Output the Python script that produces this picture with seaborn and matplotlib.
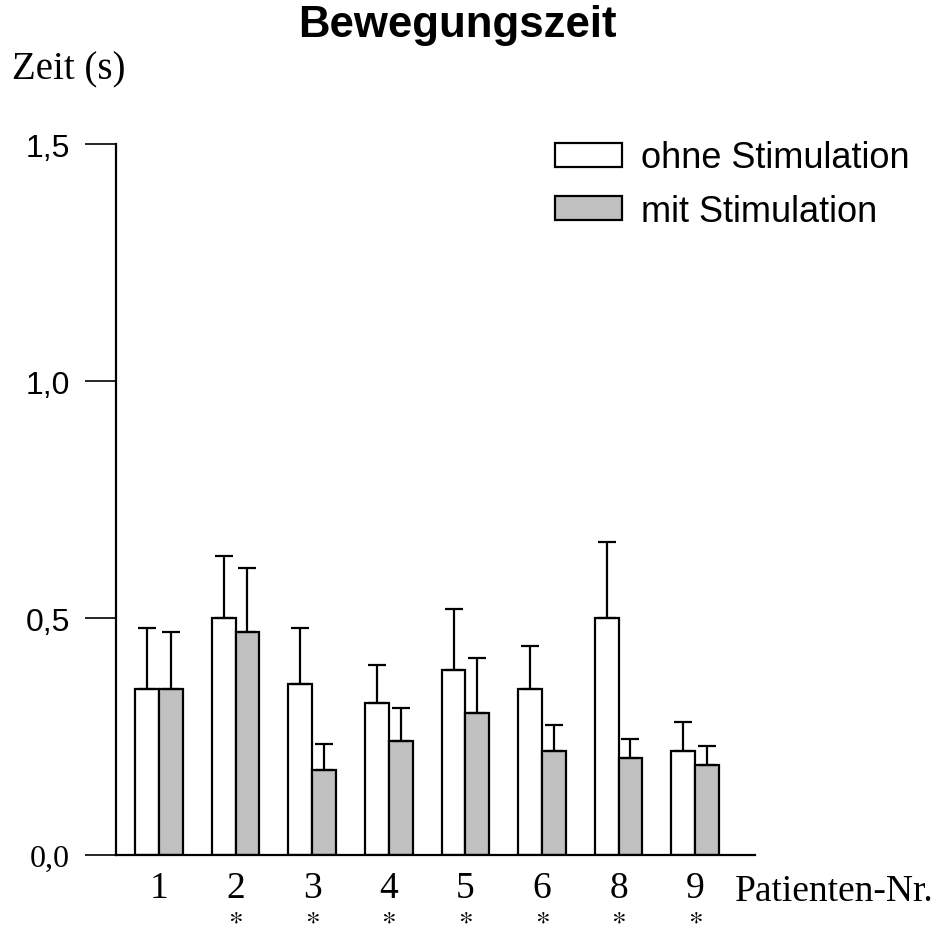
import matplotlib
matplotlib.use("Agg")
import matplotlib.pyplot as plt
import matplotlib.transforms as mtransforms
import numpy as np
import pandas as pd
import seaborn as sns

# Patient numbers (patient 7 not included) and mean movement times in seconds
patients = ["1", "2", "3", "4", "5", "6", "8", "9"]
ohne_mean = [0.35, 0.50, 0.36, 0.32, 0.39, 0.35, 0.50, 0.22]
ohne_err = [0.13, 0.13, 0.12, 0.08, 0.13, 0.09, 0.16, 0.06]
mit_mean = [0.35, 0.47, 0.18, 0.24, 0.30, 0.22, 0.205, 0.19]
mit_err = [0.12, 0.135, 0.055, 0.07, 0.115, 0.055, 0.04, 0.04]
significant = ["", "*", "*", "*", "*", "*", "*", "*"]
conditions = ["ohne Stimulation", "mit Stimulation"]
y_ticks = [0.0, 0.5, 1.0, 1.5]
y_ticklabels = ["0,0", "0,5", "1,0", "1,5"]

df = pd.DataFrame({
    "Patient": patients * 2,
    "Zeit": ohne_mean + mit_mean,
    "Fehler": ohne_err + mit_err,
    "Bedingung": [conditions[0]] * len(patients) + [conditions[1]] * len(patients),
})

sns.set_style("white")
plt.rcParams["font.family"] = ["Liberation Sans", "DejaVu Sans"]
plt.rcParams["text.color"] = "black"
plt.rcParams["xtick.color"] = "black"
plt.rcParams["ytick.color"] = "black"

fig = plt.figure(figsize=(9.38, 9.37), dpi=100)
ax = fig.add_axes([0.1237, 0.0864, 0.6812, 0.7588])

sns.barplot(
    data=df, x="Patient", y="Zeit", hue="Bedingung", order=patients,
    hue_order=conditions, palette=["white", "#c0c0c0"], width=0.62,
    edgecolor="black", linewidth=1.6, errorbar=None, ax=ax, legend=True,
)

# One-sided (upward) error bars drawn at the centres of the bars
for container, errs in zip(ax.containers, [ohne_err, mit_err]):
    for bar, e in zip(container.patches, errs):
        xc = bar.get_x() + bar.get_width() / 2
        top = bar.get_height()
        ax.errorbar([xc], [top], yerr=[[0], [e]], fmt="none", ecolor="black",
                    elinewidth=1.6, capsize=6.5, capthick=1.6, zorder=3)

ax.set_xlim(-0.56, 7.78)
ax.set_ylim(0, 1.5)
ax.set_yticks(y_ticks)
ax.set_yticklabels(y_ticklabels, fontsize=23)
ax.get_yticklabels()[0].set_family(["Liberation Serif"])
ax.set_xticks(range(len(patients)))
ax.set_xticklabels(patients, fontsize=27, family=["Liberation Serif"])
ax.tick_params(axis="y", left=True, direction="out", length=22, width=1.2,
               pad=11, color="black", labelcolor="black")
ax.tick_params(axis="x", bottom=False, length=0, pad=11, labelcolor="black")
ax.set_xlabel("")
ax.set_ylabel("")
for side in ["top", "right"]:
    ax.spines[side].set_visible(False)
for side in ["left", "bottom"]:
    ax.spines[side].set_color("black")
    ax.spines[side].set_linewidth(1.6)

# Significance markers beneath the patient numbers
trans = mtransforms.blended_transform_factory(ax.transData, fig.transFigure)
for i, s in enumerate(significant):
    if s:
        ax.text(i, 1.0 / 937, f"${s}$", transform=trans, ha="center",
                va="bottom", fontsize=21, math_fontfamily="stix")

fig.text(735 / 938, 1 - 901 / 937, "Patienten-Nr.", ha="left", va="baseline",
         fontsize=27, family=["Liberation Serif"])

fig.text(0.013, 1 - 79 / 937, "Zeit (s)", ha="left", va="baseline",
         fontsize=28, family=["Liberation Serif"])
fig.text(0.488, 0.995, "Bewegungszeit", ha="center", va="top",
         fontsize=31.5, fontweight="bold")

handles, labels = ax.get_legend_handles_labels()
ax.legend(handles, labels, loc="upper left", bbox_to_anchor=(0.592, 0.849),
          bbox_transform=fig.transFigure, frameon=False, fontsize=26,
          handlelength=1.86, handleheight=0.64, handletextpad=0.5,
          labelspacing=0.5, borderpad=0, borderaxespad=0)

fig.savefig("out.png", dpi=100)
